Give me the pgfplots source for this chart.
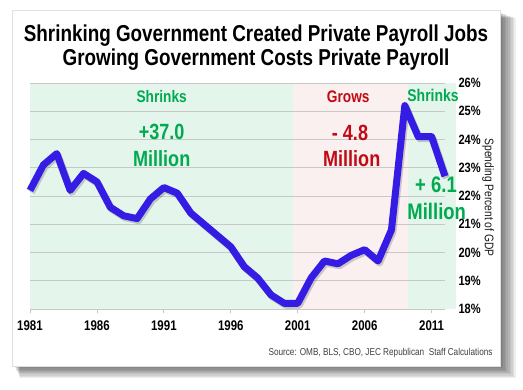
\documentclass[border=0pt]{standalone}
\usepackage{pgfplots}
\pgfplotsset{compat=1.18}
\usepackage{fontspec}
\setmainfont{Liberation Sans}
\newfontfamily\nf[FakeStretch=0.82]{Liberation Sans}
\definecolor{linecol}{RGB}{52,28,228}
\definecolor{gfill}{RGB}{228,245,235}
\definecolor{rfill}{RGB}{251,240,240}
\definecolor{gtext}{RGB}{0,170,80}
\definecolor{rtext}{RGB}{192,10,20}
\definecolor{gridc}{RGB}{200,200,200}
\pgfplotstableread{
year val
1981 22.2
1982 23.1
1983 23.5
1984 22.2
1985 22.8
1986 22.5
1987 21.6
1988 21.3
1989 21.2
1990 21.9
1991 22.3
1992 22.1
1993 21.4
1994 21.0
1995 20.6
1996 20.2
1997 19.5
1998 19.1
1999 18.5
2000 18.2
2001 18.2
2002 19.1
2003 19.7
2004 19.6
2005 19.9
2006 20.1
2007 19.7
2008 20.8
2009 25.2
2010 24.1
2011 24.1
2012 22.7
}\spend
\pgfplotsset{base/.style={
  at={(30pt,80pt)}, anchor=south west,
  scale only axis, width=415pt, height=226pt,
  xmin=1981, xmax=2012, ymin=18, ymax=26,
  clip=false}}
\begin{document}
\begin{tikzpicture}
\fill[white] (0,0) rectangle (523pt,389pt);
\begin{scope}[x=1pt,y=1pt]
\foreach \d in {1,...,10} {
  \fill[black,opacity=0.065] ({14+0.6*\d},{23-1.2*\d}) rectangle ({500+1.6*\d},{377-0.6*\d});
}
\fill[white] (12,23) rectangle (500,379);
\draw[black!12] (12,23) rectangle (500,379);
\end{scope}
\begin{axis}[base, axis lines=none, xtick=\empty, ytick=\empty]
\fill[gfill] (axis cs:1981,18) rectangle (axis cs:2000.63,26);
\fill[rfill] (axis cs:2000.63,18) rectangle (axis cs:2009.2,26);
\fill[gfill] (axis cs:2009.2,18) rectangle (axis cs:2012.8,26);
\end{axis}
\begin{axis}[base,
  axis x line*=bottom, axis y line*=right,
  x axis line style={gridc, line width=0.8pt},
  y axis line style={draw=none},
  xtick={1981,1986,1991,1996,2001,2006,2011},
  xticklabels={1981,1986,1991,1996,2001,2006,2011},
  ytick={18,19,20,21,22,23,24,25,26},
  yticklabels={18\%,19\%,20\%,21\%,22\%,23\%,24\%,25\%,26\%},
  xtick style={gridc, line width=0.8pt},
  ytick style={draw=none},
  major tick length=4pt,
  tick align=outside,
  xticklabel style={font=\nf\bfseries\fontsize{14}{16}\selectfont, yshift=-4pt},
  yticklabel style={font=\nf\bfseries\fontsize{13.5}{15}\selectfont, anchor=west, xshift=6pt},
  ymajorgrids, grid style={gridc, line width=0.8pt},
]
\addplot[black, opacity=0.18, line width=7pt, line join=round, xshift=1.5pt, yshift=-2pt] table[x=year,y=val] {\spend};
\addplot[linecol, line width=7pt, line join=round] table[x=year,y=val] {\spend};
\end{axis}
\begin{scope}[x=1pt,y=1pt]
\node[anchor=base, font=\nf\bfseries\fontsize{23}{27}\selectfont] at (256,347.3) {Shrinking Government Created Private Payroll Jobs};
\node[anchor=base, font=\nf\bfseries\fontsize{23}{27}\selectfont] at (256,323.3) {Growing Government Costs Private Payroll};
\node[gtext, font=\nf\bfseries\fontsize{16.7}{19}\selectfont] at (161.7,292.3) {Shrinks};
\node[gtext, font=\nf\bfseries\fontsize{22}{25}\selectfont] at (161.7,257.3) {+37.0};
\node[gtext, font=\nf\bfseries\fontsize{22}{25}\selectfont] at (161.7,230.7) {Million};
\node[rtext, font=\nf\bfseries\fontsize{16.7}{19}\selectfont] at (348.3,292.3) {Grows};
\node[rtext, font=\nf\bfseries\fontsize{22}{25}\selectfont] at (350,255.7) {- 4.8};
\node[rtext, font=\nf\bfseries\fontsize{22}{25}\selectfont] at (351.7,230.7) {Million};
\node[gtext, font=\nf\bfseries\fontsize{17}{19}\selectfont] at (433,293.3) {Shrinks};
\node[gtext, font=\nf\bfseries\fontsize{22.5}{25}\selectfont] at (436,204) {+ 6.1};
\node[gtext, font=\nf\bfseries\fontsize{22.5}{25}\selectfont] at (436.7,177.3) {Million};
\node[rotate=-90, font=\nf\fontsize{12.5}{14}\selectfont, black!90] at (488,191.5) {Spending Percent of GDP};
\node[anchor=east, inner sep=0pt, font=\nf\fontsize{10}{12}\selectfont, black!75] at (492.7,36.3) {Source: OMB, BLS, CBO, JEC Republican \ Staff Calculations};
\end{scope}
\end{tikzpicture}
\end{document}
